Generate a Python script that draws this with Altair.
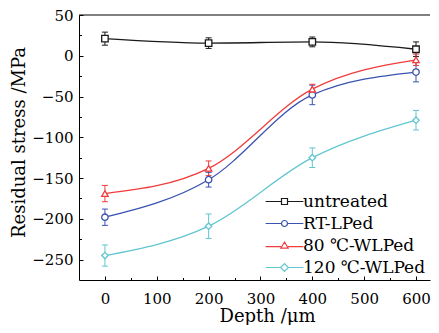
import altair as alt
import pandas as pd

depth = [0, 200, 400, 600]
series_names = ["untreated", "RT-LPed", "80 ℃-WLPed", "120 ℃-WLPed"]
untreated = [21, 15.5, 17, 8]
untreated_err = [8, 6.5, 6, 9]
rt_lped = [-198, -152, -48, -20]
rt_lped_err = [10, 9, 12, 12]
wlped80 = [-169, -138, -41, -5]
wlped80_err = [10, 9, 6, 7]
wlped120 = [-245, -209, -125, -79]
wlped120_err = [13, 15, 12, 12]

colors = ["#1a1a1a", "#3953b0", "#f03c3c", "#62c6d0"]
shapes = ["square", "circle", "triangle-up", "diamond"]
x_domain = [-50, 627]
y_domain = [-275, 50]
x_ticks = [0, 100, 200, 300, 400, 500, 600]
x_minor = [50, 150, 250, 350, 450, 550]
y_ticks = [-250, -200, -150, -100, -50, 0, 50]
y_minor = [-225, -175, -125, -75, -25, 25]

vals = [untreated, rt_lped, wlped80, wlped120]
errs = [untreated_err, rt_lped_err, wlped80_err, wlped120_err]
rows = []
for name, v, e in zip(series_names, vals, errs):
    for d, s, er in zip(depth, v, e):
        rows.append({"series": name, "depth": d, "stress": s, "lo": s - er, "hi": s + er})
df = pd.DataFrame(rows)
caps = pd.concat([
    df[["series", "depth", "lo"]].rename(columns={"lo": "cap"}),
    df[["series", "depth", "hi"]].rename(columns={"hi": "cap"}),
])
frame = pd.DataFrame({"x0": [x_domain[0]], "x1": [x_domain[1]], "ytop": [y_domain[1]]})

FONT = "DejaVu Serif"
xs = alt.Scale(domain=x_domain, nice=False, zero=False)
ys = alt.Scale(domain=y_domain, nice=False, zero=False)

# legend symbols: line + marker
sq = "M-6.3,0H-1M1,0H6.3M-1,-1H1V1H-1Z"
ci = "M-6.3,0H-1M1,0H6.3M1,0A1,1,0,1,1,-1,0A1,1,0,1,1,1,0Z"
tri = "M-6.3,0.35H-1.15M1.15,0.35H6.3M0,-1.15L1.2,0.85H-1.2Z"
dia = "M-6.3,0H-1.3M1.3,0H6.3M0,-1.3L1.3,0L0,1.3L-1.3,0Z"
legend_paths = [sq, ci, tri, dia]

legend = alt.Legend(
    title=None, orient="none", legendX=197, legendY=178,
    symbolSize=36, symbolStrokeWidth=1.2, labelFont=FONT, labelFontSize=17,
    labelColor="black", rowPadding=4, labelOffset=10, symbolOffset=0, padding=0,
    symbolOpacity=1, labelLimit=0,
)
cscale = alt.Scale(domain=series_names, range=colors)
color_noleg = alt.Color("series:N", scale=cscale, legend=None)

main_x = alt.Axis(orient="bottom", values=x_ticks, ticks=False, grid=False, domainColor="black",
                  labelFont=FONT, labelFontSize=15, labelColor="black", labelPadding=11,
                  title="Depth /μm", titleFont=FONT, titleFontSize=18, titleFontWeight="normal",
                  titleColor="black", titlePadding=1, titleX=188)
main_y = alt.Axis(orient="left", values=y_ticks, ticks=False, grid=False, domainColor="black",
                  labelFont=FONT, labelFontSize=15, labelColor="black", labelPadding=6,
                  title="Residual stress /MPa", titleFont=FONT, titleFontSize=18,
                  titleFontWeight="normal", titleColor="black", titlePadding=3, titleY=127)
maj_x = alt.Axis(orient="bottom", values=x_ticks, offset=-4, tickSize=4, tickColor="black",
                 labels=False, domain=False, grid=False, title=None)
maj_y = alt.Axis(orient="left", values=y_ticks, offset=-4, tickSize=4, tickColor="black",
                 labels=False, domain=False, grid=False, title=None)
min_x = alt.Axis(orient="bottom", values=x_minor, offset=-2.5, tickSize=2.5, tickColor="black",
                 labels=False, domain=False, grid=False, title=None)
min_y = alt.Axis(orient="left", values=y_minor, offset=-2.5, tickSize=2.5, tickColor="black",
                 labels=False, domain=False, grid=False, title=None)

base = alt.Chart(df)
lines = base.mark_line(interpolate="monotone", strokeWidth=1.3).encode(
    x=alt.X("depth:Q", scale=xs, axis=main_x),
    y=alt.Y("stress:Q", scale=ys, axis=main_y),
    color=color_noleg,
)
bars = base.mark_rule(strokeWidth=1).encode(
    x=alt.X("depth:Q", scale=xs, axis=maj_x),
    y=alt.Y("lo:Q", scale=ys, axis=maj_y),
    y2="hi:Q",
    color=color_noleg,
)
capm = alt.Chart(caps).mark_tick(orient="horizontal", size=6, thickness=1, opacity=1).encode(
    x=alt.X("depth:Q", scale=xs, axis=min_x),
    y=alt.Y("cap:Q", scale=ys, axis=min_y),
    color=color_noleg,
)
points = base.mark_point(filled=False, fill="white", fillOpacity=1, size=42, strokeWidth=1.3, opacity=1).encode(
    x=alt.X("depth:Q", scale=xs, axis=None),
    y=alt.Y("stress:Q", scale=ys, axis=None),
    color=color_noleg,
    shape=alt.Shape("series:N", scale=alt.Scale(domain=series_names, range=shapes), legend=None),
)
# top frame line at the top of the y domain
top_line = alt.Chart(frame).mark_rule(color="black", strokeWidth=1).encode(
    x=alt.X("x0:Q", scale=xs, axis=None),
    x2="x1:Q",
    y=alt.Y("ytop:Q", scale=ys, axis=None),
)
# legend-only layer (draws no marks)
legend_layer = base.transform_filter("datum.depth < -1000").mark_point(filled=False, opacity=1, strokeWidth=1.2).encode(
    x=alt.X("depth:Q", scale=xs, axis=None),
    y=alt.Y("stress:Q", scale=ys, axis=None),
    color=alt.Color("series:N", scale=cscale, legend=legend),
    shape=alt.Shape("series:N", scale=alt.Scale(domain=series_names, range=legend_paths), legend=legend),
)

chart = alt.layer(lines, bars, capm, top_line, points, legend_layer).resolve_axis(
    x="independent", y="independent"
).resolve_scale(shape="independent", color="independent").properties(
    width=423, height=317,
    autosize=alt.AutoSizeParams(type="fit", contains="padding"),
    padding={"left": 2, "top": 0, "right": 0, "bottom": 0},
).configure_view(stroke=None)

chart.save("out.html", embed_options={"renderer": "svg", "actions": False})
